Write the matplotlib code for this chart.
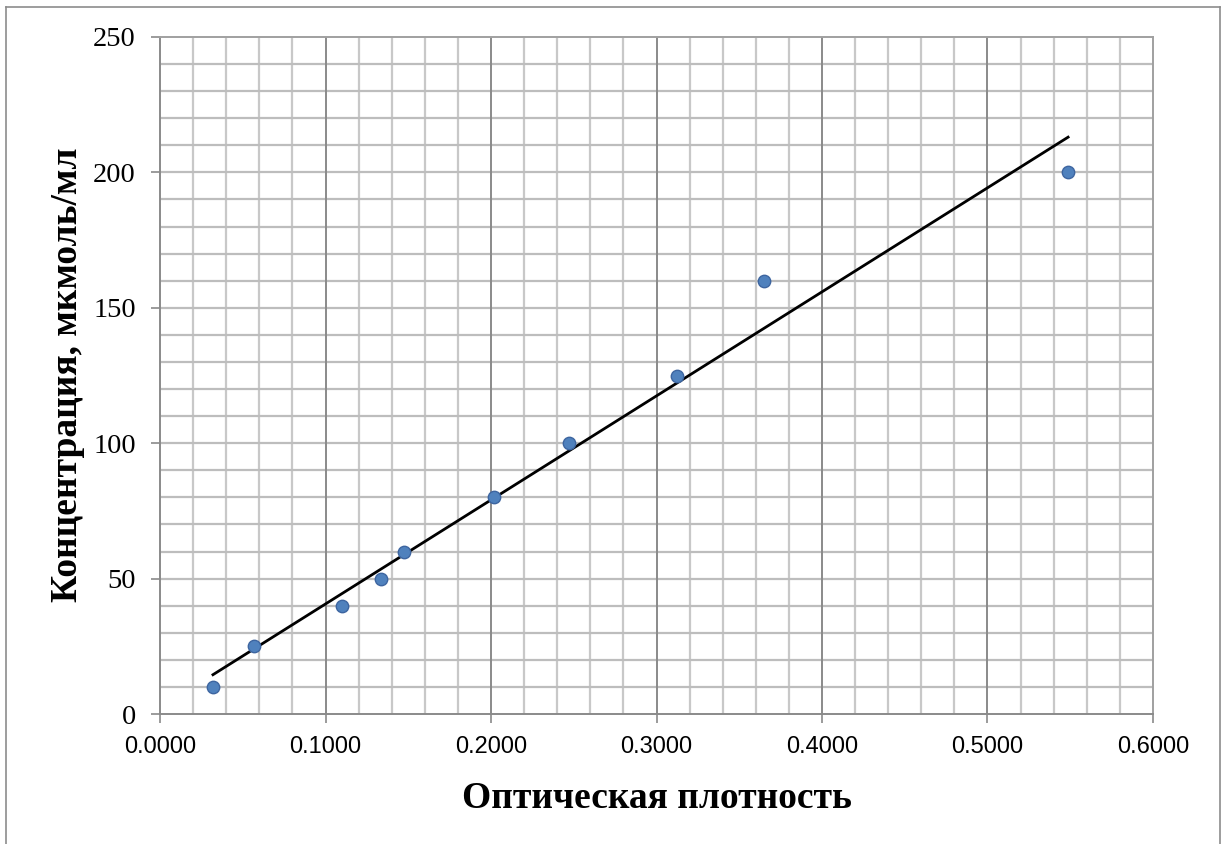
import numpy as np
import matplotlib
matplotlib.use("Agg")
import matplotlib.pyplot as plt
from matplotlib.lines import Line2D

# optical density vs concentration
density = [0.0320, 0.0568, 0.1100, 0.1335, 0.1475, 0.2018, 0.2470, 0.3125, 0.3650, 0.5487]
conc = [10, 25, 40, 50, 60, 80, 100, 125, 160, 200]

xlabel = "Оптическая плотность"
ylabel = "Концентрация, мкмоль/мл"

W, H = 1224, 844
fig = plt.figure(figsize=(W / 100, H / 100), dpi=100)
ax = fig.add_axes([160 / W, 1 - 714 / H, 993 / W, 677 / H])

# outer chart border (left, top, right)
for xx, yy in [([6, 6], [H, 7]), ([6, 1220], [7, 7]), ([1220, 1220], [7, H])]:
    fig.add_artist(Line2D([x / W for x in xx], [1 - y / H for y in yy],
                          color="#8c8c8c", lw=1.2, transform=fig.transFigure))

ax.set_xlim(0, 0.6)
ax.set_ylim(0, 250)

# grid
for v in np.arange(0.02, 0.6, 0.02):
    if abs(v / 0.1 - round(v / 0.1)) < 1e-6:
        continue
    ax.axvline(v, color="#c8c8c8", lw=1.6, zorder=0)
for v in np.arange(0.1, 0.6, 0.1):
    ax.axvline(v, color="#8a8a8a", lw=1.4, zorder=0.5)
for v in range(10, 250, 10):
    ax.axhline(v, color="#bdbdbd", lw=1.6, zorder=0)

# trend line
k, b = np.polyfit(density, conc, 1)
xs = np.array([min(density), max(density)])
ax.plot(xs, k * xs + b, color="black", lw=2, zorder=3)

ax.scatter(density, conc, s=80, color="#4f81bd", edgecolor="#3d65a0", lw=1, zorder=4)

ax.set_xticks(np.arange(0, 0.61, 0.1))
ax.set_xticklabels(["%.4f" % v for v in np.arange(0, 0.61, 0.1)], fontfamily="Liberation Sans", fontsize=17)
ax.set_yticks(range(0, 251, 50))
ax.set_yticklabels([str(v) for v in range(0, 251, 50)], fontfamily="Liberation Serif", fontsize=20.5)
ax.tick_params(axis="x", direction="out", length=6.5, width=1.2, color="#8a8a8a", pad=9)
ax.tick_params(axis="y", direction="out", length=6.5, width=1.2, color="#8a8a8a", pad=11)

for s in ax.spines.values():
    s.set_color("#a0a0a0")
    s.set_linewidth(1.4)
ax.spines["left"].set_color("#8a8a8a")
ax.spines["bottom"].set_color("#8a8a8a")

fig.text(657 / W, 1 - 808 / H, xlabel, family="Liberation Serif", weight="bold",
         fontsize=27, ha="center", va="baseline")
fig.text(77 / W, 1 - 375 / H, ylabel, family="Liberation Serif", weight="bold",
         fontsize=27, ha="center", va="baseline", rotation=90, rotation_mode="anchor")

fig.savefig("out.png", dpi=100)
